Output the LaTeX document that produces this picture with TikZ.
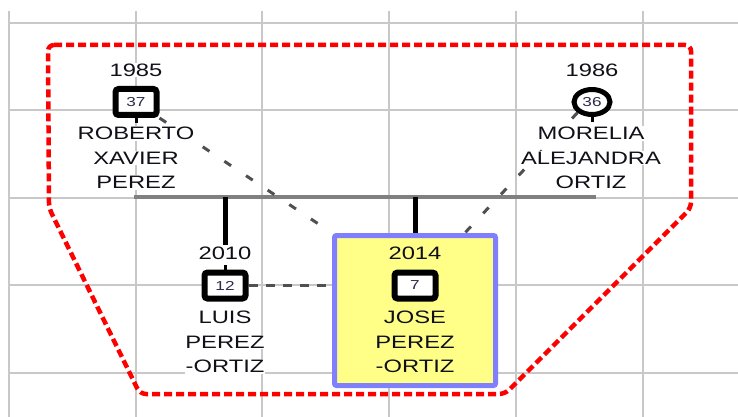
\documentclass[tikz,border=0pt]{standalone}
\usepackage{fontspec}
\setmainfont{Liberation Sans}[FakeStretch=1.32]
\usetikzlibrary{shapes.geometric,calc}
\definecolor{gridc}{HTML}{C8C8C8}
\definecolor{txtc}{HTML}{101018}
\definecolor{numc}{HTML}{2A2A4A}
\definecolor{dashc}{HTML}{505050}
\definecolor{barc}{HTML}{808080}
\definecolor{selfill}{HTML}{FFFF88}
\definecolor{seldraw}{HTML}{8080FF}
\pgfdeclarelayer{bg}
\pgfsetlayers{bg,main}
\newcommand{\wl}[1]{{\setlength{\fboxsep}{1pt}\colorbox{white}{#1}}}
\tikzset{
  gridline/.style={draw=gridc, line width=2pt},
  grp/.style={draw=red, line width=4.5pt, dash pattern=on 8pt off 4pt, rounded corners=6pt},
  rel/.style={draw=dashc, line width=3pt, dash pattern=on 8pt off 18pt},
  sib/.style={draw=dashc, line width=3pt, dash pattern=on 9pt off 8pt},
  marbar/.style={draw=barc, line width=4pt},
  desc/.style={draw=black, line width=5pt},
  stub/.style={draw=black, line width=3pt},
  pbox/.style={draw=black, fill=white, line width=6pt, rounded corners=3pt, minimum width=41pt, minimum height=26pt, inner sep=0pt, text=numc, font=\fontsize{13}{13}\selectfont},
  pcirc/.style={ellipse, draw=black, fill=white, line width=5pt, minimum width=36pt, minimum height=25pt, inner sep=0pt, text=numc, font=\fontsize{13}{13}\selectfont},
  yearlbl/.style={text=txtc, inner sep=1pt, font=\fontsize{18}{24.5}\selectfont},
  namelbl/.style={text=txtc, align=center, inner sep=0pt, font=\fontsize{18}{24.5}\selectfont},
  selbox/.style={draw=seldraw, fill=selfill, line width=5pt, rounded corners=2pt, minimum width=161pt, minimum height=150pt, inner sep=0pt}
}
\begin{document}
\begin{tikzpicture}[x=1pt,y=-1pt]
\useasboundingbox (0,0) rectangle (738,417);
% selected person frame
\node[selbox] (jose) at (415,310.5) {};
% people
\node[yearlbl, fill=white] (y1985) at (136,70) {1985};
\node[pbox] (b37) at (136,102) {37};
\node[namelbl] (n37) at (136,158) {\wl{ROBERTO}\\\wl{XAVIER}\\\wl{PEREZ}};
\node[yearlbl, fill=white] (y1986) at (592,70) {1986};
\node[pcirc] (c36) at (592,102) {36};
\node[namelbl] (n36) at (591,158) {\wl{MORELIA}\\\wl{ALEJANDRA}\\\wl{ORTIZ}};
\node[yearlbl, fill=white] (y2010) at (225,253) {2010};
\node[pbox] (b12) at (225,285.5) {12};
\node[namelbl] (n12) at (225,342) {\wl{LUIS}\\\wl{PEREZ}\\\wl{-ORTIZ}};
\node[yearlbl] (y2014) at (415,253) {2014};
\node[pbox] (b7) at (415,285.5) {7};
\node[namelbl] (n7) at (415,342) {JOSE\\PEREZ\\-ORTIZ};
\coordinate (barL) at (134,197);
\coordinate (barR) at (596,197);
\coordinate (jtopR) at ($(jose.north west)!0.8!(jose.north east)$);
\begin{pgfonlayer}{bg}
\fill[white] (0,0) rectangle (738,417);
% grid
\foreach \gx in {9,136,262,389,516,643} \draw[gridline] (\gx,11) -- (\gx,417);
\foreach \gy in {23,110,198,285,373} \draw[gridline] (9,\gy) -- (738,\gy);
% group outline
\draw[grp] (48,45) -- (691,45) -- (691,208) -- (505,394) -- (140,394) -- (49,208) -- cycle;
% marriage bar and descent lines
\draw[marbar] (barL) -- (barR);
\draw[desc] (y2010.north |- barL) -- (y2010.north);
\draw[desc] (jose.north |- barL) -- (jose.north);
% relation dashed lines
\draw[rel] (b37.south east) -- (jose.north west);
\draw[rel] (c36.south west) -- (jtopR);
\draw[sib] (b12.east) -- (b12.east -| jose.west);
% stubs
\draw[stub] (b37.south) -- ++(0,5);
\draw[stub] (c36.south) -- ++(0,5);
\draw[stub] (b12.north) -- ++(0,-5);
\end{pgfonlayer}
\end{tikzpicture}
\end{document}
